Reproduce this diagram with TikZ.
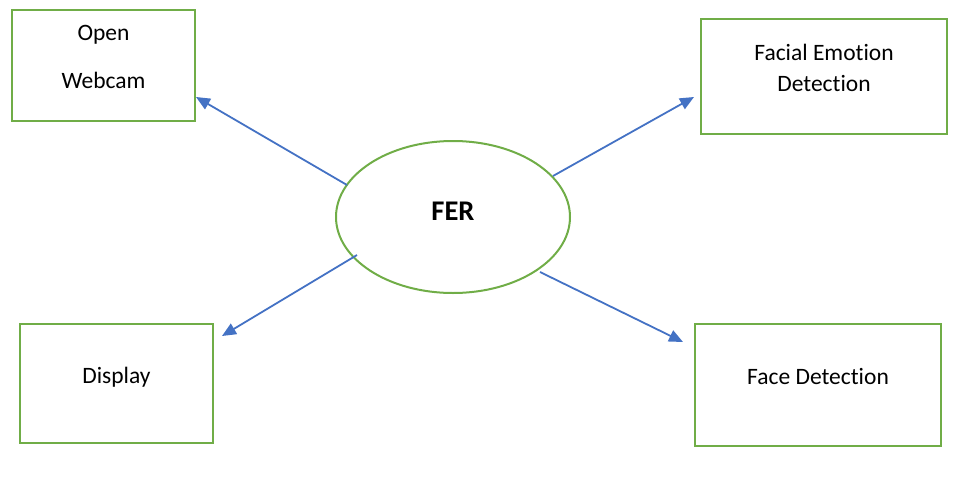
\documentclass[tikz,border=0pt]{standalone}
\usepackage{fontspec}
\setmainfont[Ligatures={NoCommon}]{Carlito}
\usetikzlibrary{arrows.meta}
\definecolor{boxgreen}{HTML}{70AD47}
\definecolor{arrowblue}{HTML}{4472C4}
\tikzset{
  box/.style={draw=boxgreen, line width=2pt, fill=white},
  lbl/.style={font=\fontsize{23.5}{28}\selectfont, inner sep=0pt, anchor=base},
  conn/.style={draw=arrowblue, line width=1.8pt, -{Triangle[length=14pt,width=12pt]}}
}
\begin{document}
\begin{tikzpicture}[x=1pt,y=-1pt]
\useasboundingbox (0,0) rectangle (967,479);
% boxes
\draw[box] (12,10) rectangle (195,121);
\node[lbl] (t1a) at (103.5,40) {Open};
\node[lbl] (t1b) at (103.5,88) {Webcam};
\coordinate (bwebcam) at (196,97);

\draw[box] (701,19) rectangle (947,134);
\node[lbl] (t2a) at (824,60) {Facial Emotion};
\node[lbl] (t2b) at (824,91) {Detection};
\coordinate (bfed) at (694,97);

\draw[box] (20,324) rectangle (213,443);
\node[lbl] (t3) at (116.5,383) {Display};
\coordinate (bdisp) at (222,336);

\draw[box] (695,324) rectangle (941,446);
\node[lbl] (t4) at (818,384) {Face Detection};
\coordinate (bface) at (683,342);

% ellipse
\draw[draw=boxgreen, line width=2pt] (453,217) ellipse [x radius=117, y radius=76];
\node[font=\fontsize{28.5}{33}\selectfont\bfseries, inner sep=0pt, anchor=base] (fer) at (453,220) {FER};

\coordinate (s1) at (347,185);
\coordinate (s2) at (553,176);
\coordinate (s3) at (357,255);
\coordinate (s4) at (540,272);

\draw[conn] (s1) -- (bwebcam);
\draw[conn] (s2) -- (bfed);
\draw[conn] (s3) -- (bdisp);
\draw[conn] (s4) -- (bface);
\end{tikzpicture}
\end{document}
